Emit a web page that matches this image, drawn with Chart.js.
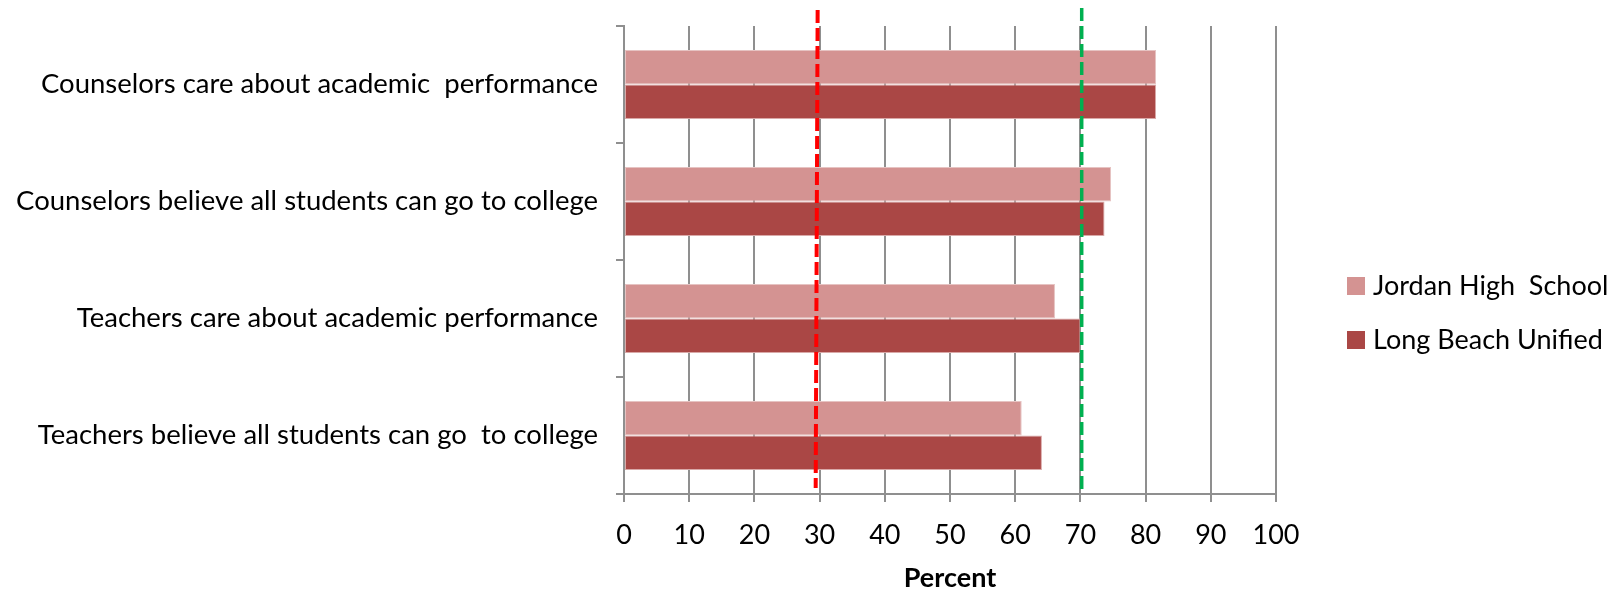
<!DOCTYPE html>
<html>
<head>
<meta charset="utf-8">
<script src="https://cdn.jsdelivr.net/npm/chart.js@4/dist/chart.umd.min.js"></script>
<style>
  html, body { margin: 0; padding: 0; background: #ffffff; }
  #wrap { width: 1610px; height: 590px; }
</style>
</head>
<body>
<div id="wrap"><canvas id="chart" width="1610" height="590"></canvas></div>
<script>
// Survey statements (top to bottom)
const categories = [
  'Counselors care about academic  performance',
  'Counselors believe all students can go to college',
  'Teachers care about academic performance',
  'Teachers believe all students can go  to college'
];

// Percent agreeing, per group
const jordanHighSchool = [81.6, 74.7, 66.1, 61.0];
const longBeachUnified = [81.6, 73.7, 70.0, 64.1];
const seriesNames = ['Jordan High  School', 'Long Beach Unified'];

// Percent axis
const xTickValues = [0, 10, 20, 30, 40, 50, 60, 70, 80, 90, 100];
const xAxisTitle = 'Percent';

// Benchmark lines: value where the line starts (top) and ends (bottom)
const redBenchmark = [29.7, 29.4];
const greenBenchmark = [70.2, 70.2];

const FONT = 'Lato, "Open Sans", sans-serif';
const GRID = '#8f8f8f';

// Dashed vertical benchmark lines drawn through the x scale
const benchmarkLines = {
  id: 'benchmarkLines',
  afterDatasetsDraw(chart) {
    const x = chart.scales.x;
    const area = chart.chartArea;
    const ctx = chart.ctx;
    const lines = [
      { v: redBenchmark, color: '#FF0000', width: 4, dash: [13, 5], top: area.top - 16, bottom: area.bottom - 6 },
      { v: greenBenchmark, color: '#00B050', width: 3.5, dash: [13, 5], top: area.top - 18, bottom: area.bottom - 1 }
    ];
    ctx.save();
    lines.forEach(l => {
      ctx.beginPath();
      ctx.strokeStyle = l.color;
      ctx.lineWidth = l.width;
      ctx.setLineDash(l.dash);
      ctx.moveTo(x.getPixelForValue(l.v[0]), l.top);
      ctx.lineTo(x.getPixelForValue(l.v[1]), l.bottom);
      ctx.stroke();
    });
    ctx.restore();
  }
};

// Legend at the right, built from the dataset labels and colours
const sideLegend = {
  id: 'sideLegend',
  afterDraw(chart) {
    const ctx = chart.ctx;
    const left = 1347, box = 18, textX = 1373;
    const rows = [286, 340];
    ctx.save();
    ctx.font = '27px ' + FONT;
    ctx.textBaseline = 'middle';
    ctx.textAlign = 'left';
    chart.data.datasets.forEach((ds, i) => {
      ctx.fillStyle = ds.backgroundColor;
      ctx.fillRect(left, rows[i] - box / 2, box, box);
      ctx.fillStyle = '#000000';
      ctx.fillText(ds.label, textX, rows[i]);
    });
    ctx.restore();
  }
};

new Chart(document.getElementById('chart'), {
  type: 'bar',
  data: {
    labels: categories,
    datasets: [
      { label: seriesNames[0], data: jordanHighSchool, backgroundColor: '#D49392',
        borderColor: '#E6C3C2', borderWidth: 1, borderSkipped: false,
        categoryPercentage: 0.59, barPercentage: 1.0 },
      { label: seriesNames[1], data: longBeachUnified, backgroundColor: '#AA4745',
        borderColor: '#D9A9A8', borderWidth: 1, borderSkipped: false,
        categoryPercentage: 0.59, barPercentage: 1.0 }
    ]
  },
  options: {
    indexAxis: 'y',
    responsive: false,
    devicePixelRatio: 1,
    animation: false,
    layout: { padding: { top: 26, right: 334, bottom: 0, left: 0 } },
    plugins: {
      legend: { display: false },
      tooltip: { enabled: false }
    },
    scales: {
      x: {
        type: 'linear',
        min: 0,
        max: 100,
        afterBuildTicks(scale) { scale.ticks = xTickValues.map(v => ({ value: v })); },
        afterFit(scale) { scale.height = 96; },
        grid: { color: GRID, lineWidth: 2, tickLength: 8, drawTicks: true },
        border: { color: GRID, width: 2 },
        ticks: {
          color: '#000000',
          font: { family: FONT, size: 27 },
          padding: 17,
          maxRotation: 0
        },
        title: {
          display: true,
          text: xAxisTitle,
          color: '#000000',
          font: { family: FONT, size: 27, weight: 'bold', lineHeight: 0.9 },
          padding: { top: 0, bottom: 0 }
        }
      },
      y: {
        type: 'category',
        offset: true,
        afterFit(scale) {
          scale.width = 624;
          scale.paddingTop = 0;
          scale.paddingBottom = 0;
        },
        grid: { offset: true, drawOnChartArea: false, color: GRID, lineWidth: 2, tickLength: 8 },
        border: { color: GRID, width: 2 },
        ticks: {
          color: '#000000',
          font: { family: FONT, size: 27.5 },
          padding: 18,
          autoSkip: false
        }
      }
    }
  },
  plugins: [benchmarkLines, sideLegend]
});
</script>
</body>
</html>
